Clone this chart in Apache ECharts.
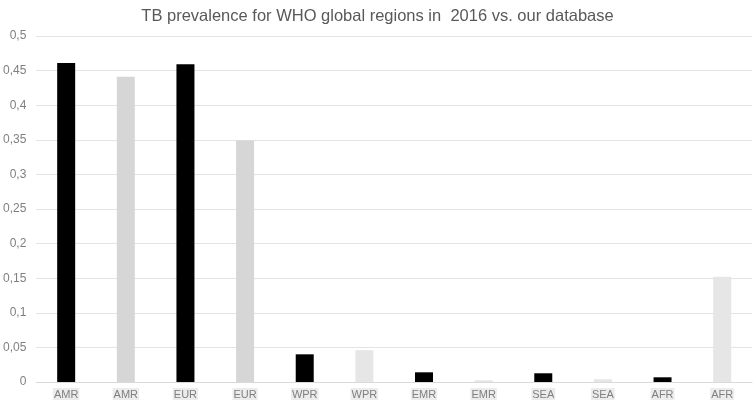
<!DOCTYPE html>
<html>
<head>
<meta charset="utf-8">
<script src="https://cdn.jsdelivr.net/npm/echarts@6/dist/echarts.min.js"></script>
<style>html,body{margin:0;padding:0;background:#fff}#c{width:755px;height:407px}</style>
</head>
<body>
<div id="c"></div>
<script>
const categories = ['AMR','AMR','EUR','EUR','WPR','WPR','EMR','EMR','SEA','SEA','AFR','AFR'];
const values = [0.461, 0.441, 0.459, 0.349, 0.040, 0.046, 0.014, 0.0025, 0.0126, 0.004, 0.0068, 0.152];
const barColors = ['#000000','#d6d6d6','#000000','#d6d6d6','#000000','#e6e6e6','#000000','#e6e6e6','#000000','#e6e6e6','#000000','#e6e6e6'];

const chart = echarts.init(document.getElementById('c'));
chart.setOption({
  animation: false,
  title: {
    text: 'TB prevalence for WHO global regions in  2016 vs. our database',
    left: 'center', top: 3,
    textStyle: {fontFamily: 'Liberation Sans', fontSize: 16.5, fontWeight: 'normal', color: '#595959'}
  },
  grid: {left: 35, right: 3, top: 36, bottom: 25},
  xAxis: {
    type: 'category',
    data: categories,
    axisLine: {lineStyle: {color: '#d9d9d9'}},
    axisTick: {show: false},
    axisLabel: {
      interval: 0, color: '#7f7f7f', fontSize: 11, fontFamily: 'Liberation Sans',
      backgroundColor: '#ececec', padding: [1,1,0,1], margin: 6
    }
  },
  yAxis: {
    type: 'value', min: 0, max: 0.5, interval: 0.05,
    axisLabel: {
      color: '#7f7f7f', fontSize: 12, fontFamily: 'Liberation Sans', margin: 10,
      formatter: v => String(+v.toFixed(2)).replace('.', ',')
    },
    splitLine: {lineStyle: {color: '#e3e3e3'}},
    axisLine: {show: false}, axisTick: {show: false}
  },
  series: [{
    type: 'bar',
    barWidth: 18,
    data: values.map((v, i) => ({value: v, itemStyle: {color: barColors[i]}}))
  }]
});
</script>
</body>
</html>
